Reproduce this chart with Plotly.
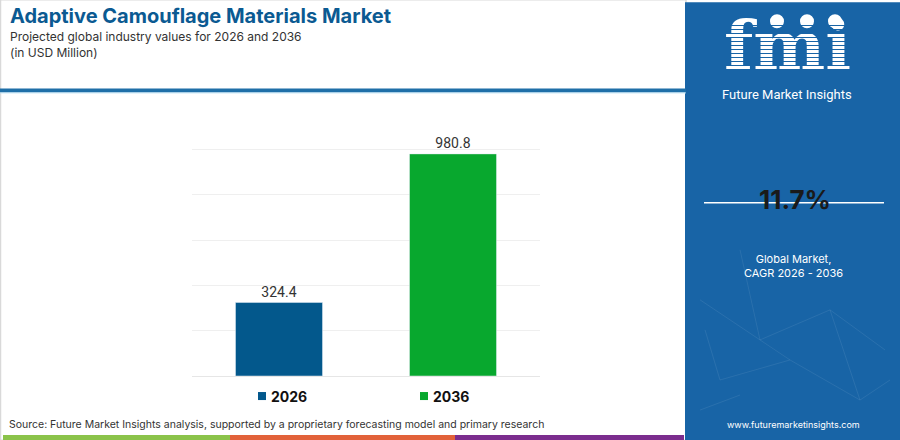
import plotly.graph_objects as go

# ---------------------------------------------
# data
# ---------------------------------------------
years = ["2026", "2036"]
values = [324.4, 980.8]
bar_colors = ["#03588c", "#08a82e"]
cagr_text = "11.7%"
y_ticks = [0, 200, 400, 600, 800, 1000]
y_max = 1020

# plot area in pixels (900x440 canvas); 1000 sits at y=150, 0 at y=376
L, R, B = 192, 540, 376
T = B - 226 * y_max / 1000
W, H = 900, 440
PANEL = "#1864a6"


def px(x):
    # pixel x -> paper x
    return (x - L) / (R - L)


def py(y):
    # pixel y -> paper y
    return (B - y) / (B - T)


fig = go.Figure()

for yr, val, col in zip(years, values, bar_colors):
    fig.add_trace(go.Bar(
        x=[yr], y=[val],
        marker_color=col,
        width=0.5,
        text=[f"{val:.1f}"],
        textposition="outside",
        textfont=dict(size=14, color="#333333", family="Roboto"),
        cliponaxis=False,
        showlegend=False,
        name=yr,
    ))

shapes = []
annotations = []

# left frame border
shapes.append(dict(type="rect", xref="paper", yref="paper",
                   x0=px(0.5), x1=px(686), y0=py(0.5), y1=py(440),
                   line=dict(color="#d9d9d9", width=1.5), layer="below"))

# blue rule under header
shapes.append(dict(type="line", xref="paper", yref="paper",
                   x0=px(0), x1=px(686), y0=py(91), y1=py(91),
                   line=dict(color="#1f6fa8", width=4)))
shapes.append(dict(type="line", xref="paper", yref="paper",
                   x0=px(0), x1=px(686), y0=py(93.5), y1=py(93.5),
                   line=dict(color="#bfe3f5", width=1)))

# bottom colour stripes
for x0, x1, c in [(3, 230, "#8bc34a"), (230, 455, "#e2623a"), (455, 684, "#7b2d8e")]:
    shapes.append(dict(type="rect", xref="paper", yref="paper",
                       x0=px(x0), x1=px(x1), y0=py(435), y1=py(440),
                       line=dict(width=0), fillcolor=c))

# right side panel
shapes.append(dict(type="rect", xref="paper", yref="paper",
                   x0=px(685), x1=px(900), y0=py(3), y1=py(440),
                   line=dict(width=0), fillcolor=PANEL, layer="below"))

# faint network lines in the panel
net = [(700, 300, 760, 340), (760, 340, 830, 310), (830, 310, 885, 350),
       (720, 380, 790, 360), (790, 360, 860, 400), (760, 340, 790, 360),
       (705, 330, 720, 380), (860, 400, 890, 380), (740, 250, 760, 340),
       (830, 310, 860, 400), (700, 410, 740, 395)]
for x0, y0, x1, y1 in net:
    shapes.append(dict(type="line", xref="paper", yref="paper",
                       x0=px(x0), x1=px(x1), y0=py(y0), y1=py(y1),
                       line=dict(color="rgba(255,255,255,0.08)", width=1)))

# fmi logo
annotations.append(dict(text="<b>fmi</b>", xref="paper", yref="paper",
                        x=px(787), y=py(46), xanchor="center", yanchor="middle",
                        showarrow=False, height=64,
                        font=dict(family="DejaVu Serif", size=68, color="white")))
# stripes over the logo (annotations so they sit above the text)
for yy in range(26, 78, 4):
    annotations.append(dict(text=" ", xref="paper", yref="paper",
                            x=px(787), y=py(yy), xanchor="center", yanchor="middle",
                            showarrow=False, width=140, height=1,
                            bgcolor=PANEL, borderpad=0, borderwidth=0,
                            font=dict(size=1, color=PANEL)))
for cx in [777, 807, 835]:
    shapes.append(dict(type="circle", xref="paper", yref="paper",
                       x0=px(cx - 7), x1=px(cx + 7), y0=py(15), y1=py(29),
                       line=dict(width=0), fillcolor="white"))
annotations.append(dict(text="Future Market Insights", xref="paper", yref="paper",
                        x=px(787), y=py(95), xanchor="center", yanchor="middle",
                        showarrow=False,
                        font=dict(family="Roboto", size=13, color="white")))

# CAGR block
shapes.append(dict(type="line", xref="paper", yref="paper",
                   x0=px(704), x1=px(884), y0=py(203), y1=py(203),
                   line=dict(color="white", width=1.5)))
annotations.append(dict(text=f"<b>{cagr_text}</b>", xref="paper", yref="paper",
                        x=px(795), y=py(200), xanchor="center", yanchor="middle",
                        showarrow=False,
                        font=dict(family="Inter", size=26, color="#1a1a1a")))
annotations.append(dict(text="Global Market,<br>CAGR 2026 - 2036", xref="paper", yref="paper",
                        x=px(793), y=py(266), xanchor="center", yanchor="middle",
                        showarrow=False, align="center",
                        font=dict(family="Inter", size=11, color="white")))
annotations.append(dict(text="www.futuremarketinsights.com", xref="paper", yref="paper",
                        x=px(793), y=py(424), xanchor="center", yanchor="middle",
                        showarrow=False,
                        font=dict(family="Inter", size=9, color="white")))

# titles
annotations.append(dict(text="<b>Adaptive Camouflage Materials Market</b>",
                        xref="paper", yref="paper", x=px(8), y=py(17),
                        xanchor="left", yanchor="middle", showarrow=False,
                        font=dict(family="Inter", size=20, color="#0b5a92")))
annotations.append(dict(text="Projected global industry values for 2026 and 2036",
                        xref="paper", yref="paper", x=px(8), y=py(37),
                        xanchor="left", yanchor="middle", showarrow=False,
                        font=dict(family="Inter", size=12, color="#333333")))
annotations.append(dict(text="(in USD Million)",
                        xref="paper", yref="paper", x=px(8), y=py(53),
                        xanchor="left", yanchor="middle", showarrow=False,
                        font=dict(family="Inter", size=12, color="#333333")))

# legend (manual)
for (lx, yr, col) in [(258, years[0], bar_colors[0]), (420, years[1], bar_colors[1])]:
    shapes.append(dict(type="rect", xref="paper", yref="paper",
                       x0=px(lx), x1=px(lx + 8), y0=py(392), y1=py(400),
                       line=dict(width=0), fillcolor=col))
    annotations.append(dict(text=f"<b>{yr}</b>", xref="paper", yref="paper",
                            x=px(lx + 11), y=py(396), xanchor="left", yanchor="middle",
                            showarrow=False,
                            font=dict(family="Inter", size=14, color="#111111")))

# source
annotations.append(dict(text="Source: Future Market Insights analysis, supported by a proprietary forecasting model and primary research",
                        xref="paper", yref="paper", x=px(7), y=py(424),
                        xanchor="left", yanchor="middle", showarrow=False,
                        font=dict(family="Inter", size=10.5, color="#333333")))

fig.update_layout(
    width=W, height=H,
    margin=dict(l=L, r=W - R, t=T, b=H - B, pad=0),
    paper_bgcolor="white",
    plot_bgcolor="white",
    bargap=0.5,
    xaxis=dict(showticklabels=False, showgrid=False, showline=False, ticks=""),
    yaxis=dict(range=[0, y_max], tickvals=y_ticks, showticklabels=False,
               showgrid=True, gridcolor="#efefef", gridwidth=1,
               zeroline=True, zerolinecolor="#e6e6e6", zerolinewidth=1),
    shapes=shapes,
    annotations=annotations,
)

# page body has a default 8px margin; remove it so the figure fills the window
fig.write_html("out.html",
               config={"displayModeBar": False},
               post_script="document.body.style.margin='0';document.body.style.overflow='hidden';")
